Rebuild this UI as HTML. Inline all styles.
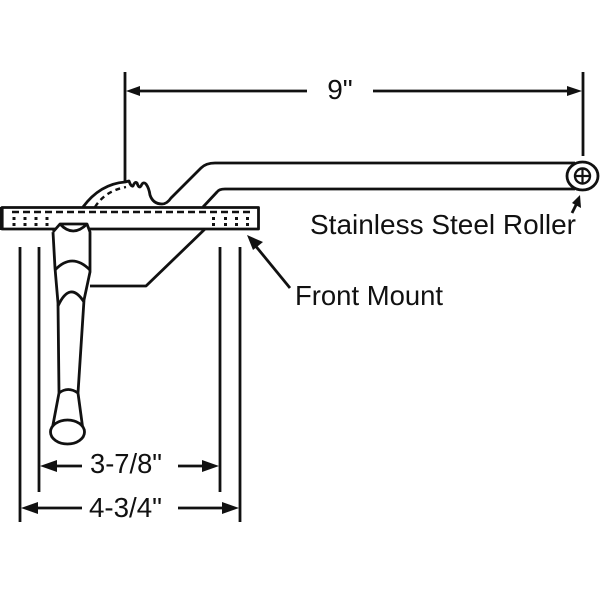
<!DOCTYPE html>
<html><head><meta charset="utf-8"><style>
html,body{margin:0;padding:0;background:#fff;}
svg{display:block;}
text{font-family:"Liberation Sans",Arial,sans-serif;fill:#111;}
</style></head><body>
<svg width="600" height="600" viewBox="0 0 600 600" xmlns="http://www.w3.org/2000/svg">
<rect width="600" height="600" fill="#fff"/>
<g stroke="#111" stroke-width="2.8" fill="none" stroke-linecap="butt" stroke-linejoin="round">
  <!-- dimension verticals top -->
  <line x1="125" y1="72" x2="125" y2="182"/>
  <line x1="583" y1="72" x2="583" y2="156"/>
  <!-- 9" dim line -->
  <line x1="130" y1="91" x2="307" y2="91"/>
  <line x1="373" y1="91" x2="570" y2="91"/>
  <!-- arm outer -->
  <path d="M83,207 Q100,184 125,182 L129,181 Q131,187 133,186 Q135,181 137,183 Q139,189 141,186 Q143,181 146,184 Q149,188 150,195 Q153,204 162,204 Q167,204 171,198 L201,168 Q206,163 215,163 L575,163"/>
  <!-- arm inner -->
  <path d="M203,207 L217,192 Q219,189 225,189 L575,189"/>
  <!-- dashed gear arc -->
  <path d="M95,207 Q105,191 126,187" stroke-dasharray="5,4" stroke-width="2.4"/>
  <!-- plate -->
  <rect x="2" y="207.5" width="256.5" height="21.5"/>
  <line x1="1.8" y1="207" x2="1.8" y2="230" stroke-width="3.6"/>
  <line x1="12" y1="212" x2="252" y2="212" stroke-dasharray="7,4" stroke-width="2.6"/>
  <!-- front mount body -->
  <path d="M205,229 L146,286 L90,286"/>
  <!-- handle -->
  <path d="M53,232 L60,224 L87,224 L90,232 L90,272 L84,300 L78,393 L83,430 M53,232 L55,268 L58,303 L59,393 L52,430" fill="#fff"/>
  <path d="M60,224 Q73,238 87,224"/>
  <path d="M55,270 Q72,252 90,270"/>
  <path d="M58,306 Q70,280 84,302"/>
  <path d="M59,393 Q68,386 78,393"/>
  <ellipse cx="67.5" cy="432" rx="17" ry="12" fill="#fff"/>
  <!-- verticals -->
  <line x1="20" y1="247" x2="20" y2="522"/>
  <line x1="39" y1="247" x2="39" y2="492"/>
  <line x1="220" y1="247" x2="220" y2="492"/>
  <line x1="240" y1="247" x2="240" y2="522"/>
  <!-- 3-7/8 dims -->
  <line x1="52" y1="466" x2="82" y2="466"/>
  <line x1="178" y1="466" x2="207" y2="466"/>
  <line x1="33" y1="508" x2="82" y2="508"/>
  <line x1="178" y1="508" x2="227" y2="508"/>
  <!-- roller -->
  <ellipse cx="582.5" cy="176" rx="15.5" ry="14" fill="#fff"/>
  <circle cx="582.5" cy="176" r="7.5" stroke-width="2.4"/>
  <line x1="575" y1="176" x2="590" y2="176" stroke-width="2.2"/>
  <line x1="582.5" y1="168.5" x2="582.5" y2="183.5" stroke-width="2.2"/>
  <!-- leader arrows -->
  <line x1="290" y1="288" x2="254" y2="244"/>
  <line x1="572" y1="213" x2="577" y2="203"/>
</g>
<g fill="#111">
  <!-- plate dots -->
  <g>
    <rect x="12.5" y="217" width="3" height="3"/><rect x="12.5" y="223" width="3" height="3"/>
    <rect x="23.5" y="217" width="3" height="3"/><rect x="23.5" y="223" width="3" height="3"/>
    <rect x="34.5" y="217" width="3" height="3"/><rect x="34.5" y="223" width="3" height="3"/>
    <rect x="45.5" y="217" width="3" height="3"/><rect x="45.5" y="223" width="3" height="3"/>
    <rect x="212" y="217" width="3" height="3"/><rect x="212" y="223" width="3" height="3"/>
    <rect x="224" y="217" width="3" height="3"/><rect x="224" y="223" width="3" height="3"/>
    <rect x="235" y="217" width="3" height="3"/><rect x="235" y="223" width="3" height="3"/>
    <rect x="246" y="217" width="3" height="3"/><rect x="246" y="223" width="3" height="3"/>
  </g>
  <!-- arrowheads -->
  <polygon points="126,91 140,86 140,96"/>
  <polygon points="582,91 567,86 567,96"/>
  <polygon points="40,466 57,460 57,472"/>
  <polygon points="219,466 202,460 202,472"/>
  <polygon points="21,508 38,502 38,514"/>
  <polygon points="239,508 222,502 222,514"/>
  <polygon points="247,235 263,242 253,250"/>
  <polygon points="580,195 581,208 572,203"/>
  <!-- texts -->
  <text x="340" y="99" font-size="28" text-anchor="middle">9"</text>
  <text x="310" y="234" font-size="28" textLength="266" lengthAdjust="spacingAndGlyphs">Stainless Steel Roller</text>
  <text x="295" y="305" font-size="28" textLength="148" lengthAdjust="spacingAndGlyphs">Front Mount</text>
  <text x="90" y="473" font-size="28" textLength="72" lengthAdjust="spacingAndGlyphs">3-7/8"</text>
  <text x="89" y="517" font-size="28" textLength="73" lengthAdjust="spacingAndGlyphs">4-3/4"</text>
</g>
</svg>
</body></html>
